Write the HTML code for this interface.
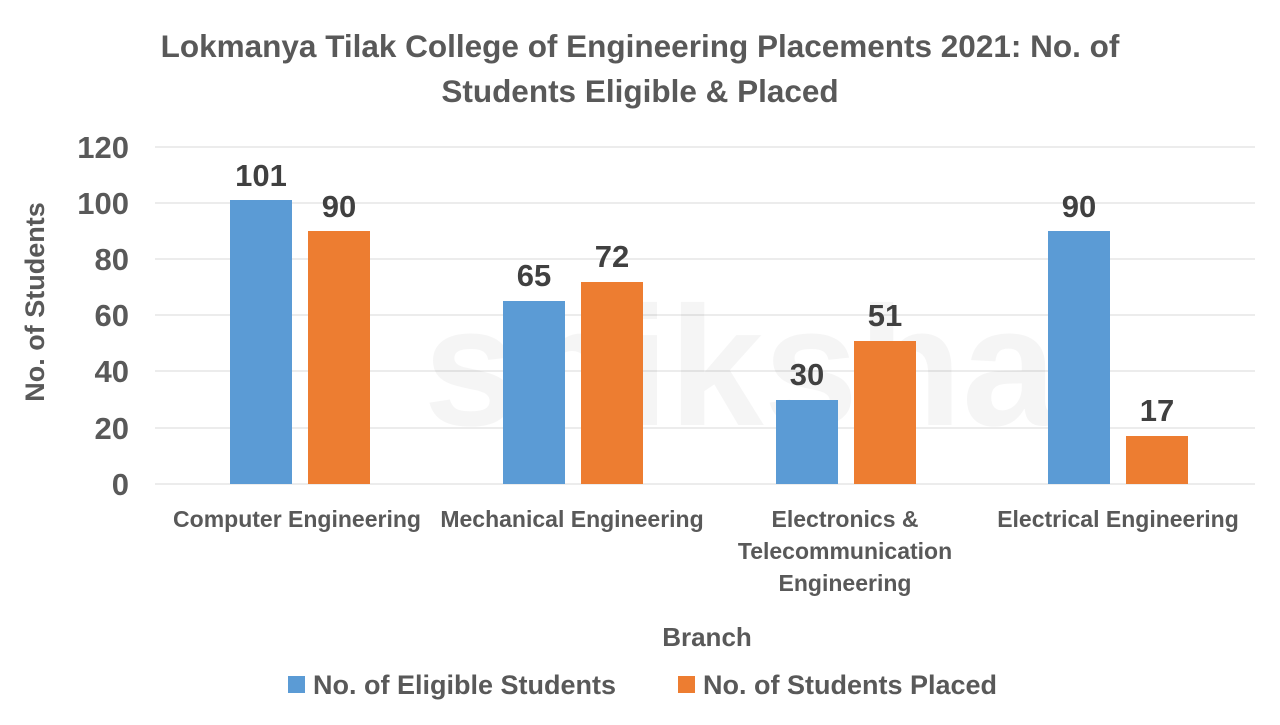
<!DOCTYPE html>
<html><head><style>
body{margin:0;background:#fff;}
svg text{font-family:"Liberation Sans",sans-serif;font-weight:bold;}
</style></head><body>
<svg width="1280" height="720" xmlns="http://www.w3.org/2000/svg">
<rect width="1280" height="720" fill="#fff"/>
<text x="640" y="57" font-size="31.5" fill="#595959" text-anchor="middle">Lokmanya Tilak College of Engineering Placements 2021: No. of</text>
<text x="640" y="102" font-size="31.5" fill="#595959" text-anchor="middle">Students Eligible &amp; Placed</text>
<g stroke="#d9d9d9" stroke-width="1">
<line x1="155" x2="1255" y1="147" y2="147"/><line x1="155" x2="1255" y1="203" y2="203"/>
<line x1="155" x2="1255" y1="259" y2="259"/><line x1="155" x2="1255" y1="315" y2="315"/>
<line x1="155" x2="1255" y1="371" y2="371"/><line x1="155" x2="1255" y1="428" y2="428"/>
<line x1="155" x2="1255" y1="484" y2="484"/>
</g>
<text x="740" y="425" font-size="170" fill="#000" fill-opacity="0.04" text-anchor="middle">shiksha</text>
<g font-size="31" fill="#595959" text-anchor="end">
<text x="129" y="158">120</text><text x="129" y="214">100</text><text x="129" y="270">80</text>
<text x="129" y="326">60</text><text x="129" y="382">40</text><text x="129" y="439">20</text><text x="129" y="495">0</text>
</g>
<text transform="translate(44,302) rotate(-90)" font-size="27" fill="#595959" text-anchor="middle">No. of Students</text>
<g fill="#5b9bd5">
<rect x="230" y="200" width="62" height="284"/>
<rect x="503" y="301" width="62" height="183"/>
<rect x="776" y="400" width="62" height="84"/>
<rect x="1048" y="231" width="62" height="253"/>
</g>
<g fill="#ed7d31">
<rect x="308" y="231" width="62" height="253"/>
<rect x="581" y="282" width="62" height="202"/>
<rect x="854" y="341" width="62" height="143"/>
<rect x="1126" y="436" width="62" height="48"/>
</g>
<g font-size="31" fill="#404040" text-anchor="middle">
<text x="261" y="186">101</text><text x="339" y="217">90</text>
<text x="534" y="286">65</text><text x="612" y="267">72</text>
<text x="807" y="385">30</text><text x="885" y="326">51</text>
<text x="1079" y="217">90</text><text x="1157" y="421">17</text>
</g>
<g font-size="23" fill="#595959" text-anchor="middle">
<text x="297" y="527">Computer Engineering</text>
<text x="572" y="527">Mechanical Engineering</text>
<text x="845" y="527">Electronics &amp;</text>
<text x="845" y="559">Telecommunication</text>
<text x="845" y="591">Engineering</text>
<text x="1118" y="527">Electrical Engineering</text>
</g>
<text x="707" y="646" font-size="26" fill="#595959" text-anchor="middle">Branch</text>
<rect x="288" y="676" width="17" height="17" fill="#5b9bd5"/>
<text x="313" y="694" font-size="27" fill="#595959">No. of Eligible Students</text>
<rect x="678" y="676" width="17" height="17" fill="#ed7d31"/>
<text x="703" y="694" font-size="27" fill="#595959">No. of Students Placed</text>
</svg>
</body></html>
